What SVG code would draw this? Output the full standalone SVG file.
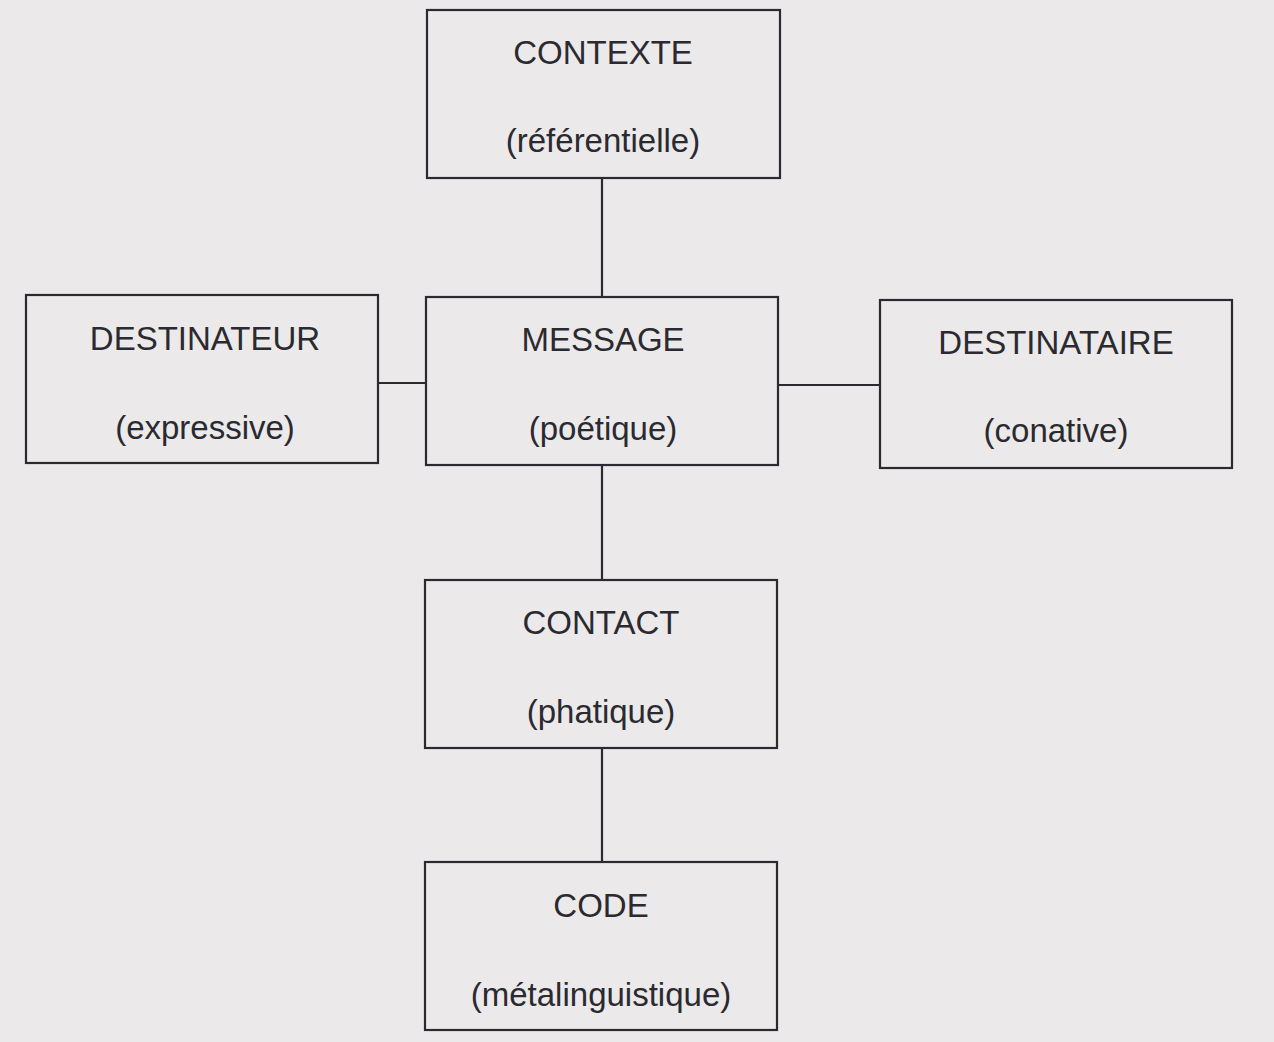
<svg xmlns="http://www.w3.org/2000/svg" width="1274" height="1042" viewBox="0 0 1274 1042">
<style>
.box{fill:#ebe9e9;stroke:#2a2a30;stroke-width:2.2}
.t{font-family:"Liberation Sans",Arial,sans-serif;font-size:33px;fill:#2a2a30;text-anchor:middle}
.c{stroke:#2a2a30;stroke-width:2.2;fill:none}
</style>
<rect width="1274" height="1042" fill="#ebe9e9"/>
<g id="connectors">
<line class="c" x1="602" y1="178" x2="602" y2="297"/>
<line class="c" x1="378" y1="383" x2="426" y2="383"/>
<line class="c" x1="778" y1="385" x2="880" y2="385"/>
<line class="c" x1="602" y1="465" x2="602" y2="580"/>
<line class="c" x1="602" y1="748" x2="602" y2="862"/>
</g>
<g id="contexte">
<rect class="box" x="427" y="10" width="353" height="168"/>
<text class="t" x="603" y="64">CONTEXTE</text>
<text class="t" x="603" y="152">(référentielle)</text>
</g>
<g id="destinateur">
<rect class="box" x="26" y="295" width="352" height="168"/>
<text class="t" x="205" y="350">DESTINATEUR</text>
<text class="t" x="205" y="439">(expressive)</text>
</g>
<g id="message">
<rect class="box" x="426" y="297" width="352" height="168"/>
<text class="t" x="603" y="351">MESSAGE</text>
<text class="t" x="603" y="440">(poétique)</text>
</g>
<g id="destinataire">
<rect class="box" x="880" y="300" width="352" height="168"/>
<text class="t" x="1056" y="354">DESTINATAIRE</text>
<text class="t" x="1056" y="442">(conative)</text>
</g>
<g id="contact">
<rect class="box" x="425" y="580" width="352" height="168"/>
<text class="t" x="601" y="634">CONTACT</text>
<text class="t" x="601" y="723">(phatique)</text>
</g>
<g id="code">
<rect class="box" x="425" y="862" width="352" height="168"/>
<text class="t" x="601" y="917">CODE</text>
<text class="t" x="601" y="1006">(métalinguistique)</text>
</g>
</svg>
